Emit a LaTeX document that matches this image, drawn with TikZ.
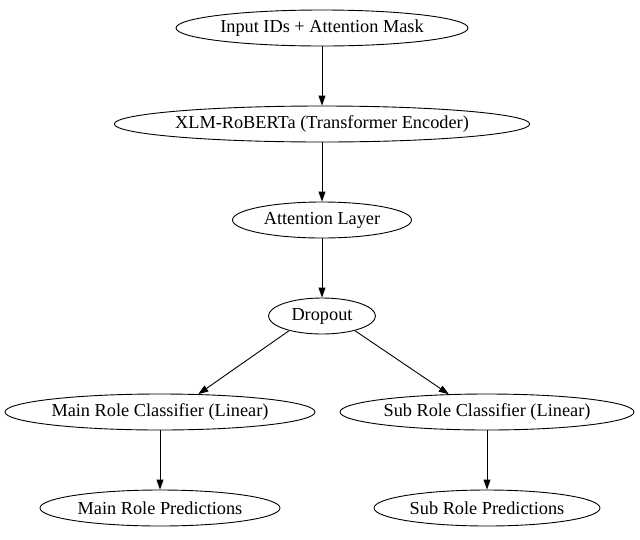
\documentclass[tikz,border=0pt]{standalone}
\usepackage{fontspec}
\setmainfont{Liberation Serif}
\usetikzlibrary{shapes.geometric,arrows.meta}

\begin{document}
\begin{tikzpicture}[x=1pt,y=1pt,line width=0.9pt,
    enode/.style={draw,ellipse,inner sep=0pt,minimum height=36pt,font=\fontsize{18.3}{20}\selectfont},
    >={Triangle[length=10pt,width=7pt]}]
    \useasboundingbox (0,0) rectangle (640,-539);
    \node[enode,minimum width=292pt] (in) at (322,-28) {Input IDs + Attention Mask};
    \node[enode,minimum width=408pt] (enc) at (322,-124) {XLM-RoBERTa (Transformer Encoder)};
    \node[enode,minimum width=179pt] (att) at (322,-220) {Attention Layer};
    \node[enode,minimum width=107pt] (drop) at (322,-316) {Dropout};
    \node[enode,minimum width=310pt] (mainc) at (160,-412) {Main Role Classifier (Linear)};
    \node[enode,minimum width=294pt] (subc) at (487,-412) {Sub Role Classifier (Linear)};
    \node[enode,minimum width=240pt] (mainp) at (160,-508) {Main Role Predictions};
    \node[enode,minimum width=226pt] (subp) at (487,-508) {Sub Role Predictions};

    \draw[->] (in) -- (enc) ;
    \draw[->] (enc) -- (att) ;
    \draw[->] (att) -- (drop) ;
    \draw[->] (drop.204) -- (mainc.25) ;
    \draw[->] (drop.336) -- (subc.155) ;
    \draw[->] (mainc) -- (mainp) ;
    \draw[->] (subc) -- (subp) ;
\end{tikzpicture}
\end{document}
